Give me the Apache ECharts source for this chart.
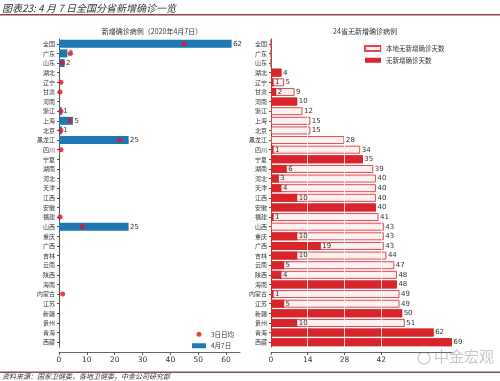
<!DOCTYPE html>
<html><head><meta charset="utf-8">
<script src="https://cdn.jsdelivr.net/npm/echarts@6/dist/echarts.min.js"></script>
<style>html,body{margin:0;padding:0;background:#fff}#c{width:500px;height:381px}</style>
</head><body><div id="c"></div>
<script>
const categories = ['全国','广东','山东','湖北','辽宁','甘肃','河南','浙江','上海','北京','黑龙江','四川','宁夏','湖南','河北','天津','江西','安徽','福建','山西','重庆','广西','吉林','云南','陕西','海南','内蒙古','江苏','新疆','贵州','青海','西藏'];
const daily = [62,3,2,0,0,0,0,1,5,1,25,0,0,0,0,0,0,0,0,25,0,0,0,0,0,0,0,0,0,0,0,0];
const avg3 = [45,4,1.3,null,0.7,0.4,null,0.7,4,0.7,21.7,0.7,null,null,null,null,null,null,0.4,8.3,null,null,null,null,null,null,1.3,null,null,null,null,null];
const localDays = [0,0,0,4,5,9,10,12,15,15,28,34,35,39,40,40,40,40,41,43,43,43,44,47,48,48,49,49,50,51,62,69];
const noneDays = [0,0,0,4,1,2,10,0,0,0,0,1,35,6,3,4,10,40,1,0,10,19,10,5,4,48,1,5,50,10,62,69];
const leftTicks = [0,10,20,30,40,50,60];
const rightTicks = [0,14,28,42];

const CJK = '"Noto Sans CJK SC", sans-serif';
const NUM = '"DejaVu Sans", sans-serif';
const chart = echarts.init(document.getElementById('c'), null, {renderer:'canvas'});

function yAx(idx){
  return {
    type:'category', gridIndex:idx, data:categories, inverse:true,
    axisLine:{show:true, lineStyle:{color:'#555', width:1}},
    axisTick:{show:true, length:2, alignWithLabel:true, lineStyle:{color:'#555'}},
    axisLabel:{fontSize:6, color:'#333', fontFamily:CJK, margin:4, interval:0},
    splitLine:{show:false}
  };
}
function xAx(idx, max, ticks){
  return {
    type:'value', gridIndex:idx, min:0, max:max, offset:5,
    axisLine:{show:true, lineStyle:{color:'#666', width:1}},
    axisTick:{show:true, length:3, customValues:ticks, lineStyle:{color:'#555'}},
    axisLabel:{fontSize:7.5, color:'#333', fontFamily:NUM, margin:4, customValues:ticks},
    splitLine:{show:false}
  };
}
const lbl = {show:true, position:'right', distance:1.5, fontSize:7, color:'#333', fontFamily:NUM};

chart.setOption({
  animation:false,
  backgroundColor:'#fff',
  textStyle:{fontFamily:CJK},
  grid:[
    {left:59, width:181, top:39, bottom:34},
    {left:271, width:181, top:39, bottom:34}
  ],
  xAxis:[xAx(0,65,leftTicks), xAx(1,69,rightTicks)],
  yAxis:[yAx(0), yAx(1)],
  legend:[
    {orient:'vertical', left:187, top:326, itemWidth:14, itemHeight:5, itemGap:5,
     textStyle:{fontSize:6.5, color:'#333', fontFamily:CJK},
     data:[{name:'3日日均', icon:'circle'},{name:'4月7日', icon:'rect'}]},
    {orient:'vertical', left:359, top:40, itemWidth:16, itemHeight:5, itemGap:5,
     textStyle:{fontSize:6.5, color:'#333', fontFamily:CJK},
     data:[{name:'本地无新增确诊天数', icon:'rect'},{name:'无新增确诊天数', icon:'rect'}]}
  ],
  title:[
    {text:'新增确诊病例（2020年4月7日）', left:147, top:23, textAlign:'center',
     textStyle:{fontSize:7, fontWeight:'normal', color:'#333', fontFamily:CJK}},
    {text:'24省无新增确诊病例', left:360, top:23, textAlign:'center',
     textStyle:{fontSize:7, fontWeight:'normal', color:'#333', fontFamily:CJK}}
  ],
  series:[
    {name:'4月7日', type:'bar', xAxisIndex:0, yAxisIndex:0, data:daily, barWidth:8,
     itemStyle:{color:'#1f77b4'},
     label:Object.assign({}, lbl, {formatter:p=>p.value>0?String(p.value):''})},
    {name:'3日日均', type:'scatter', xAxisIndex:0, yAxisIndex:0, symbolSize:5,
     itemStyle:{color:'#e4141b'}, z:5,
     data:avg3.map((v,i)=>v==null?null:[v,i]).filter(d=>d)},
    {name:'本地无新增确诊天数', type:'bar', xAxisIndex:1, yAxisIndex:1, data:localDays, barWidth:8,
     barGap:'-100%',
     itemStyle:{color:'#fdf1f1', borderColor:'#e2474c', borderWidth:1}},
    {name:'无新增确诊天数', type:'bar', xAxisIndex:1, yAxisIndex:1, data:noneDays, barWidth:8,
     barGap:'-100%',
     itemStyle:{color:'#d7252b'},
     markLine:{silent:true, symbol:'none', label:{show:false}, animation:false,
       lineStyle:{color:'#ffffff', width:1, type:'solid', opacity:0.8},
       data:[{xAxis:14},{xAxis:28},{xAxis:42}]}},
    {name:'localLabels', type:'bar', xAxisIndex:1, yAxisIndex:1, data:localDays, barWidth:8,
     barGap:'-100%', z:10, silent:true, itemStyle:{color:'rgba(0,0,0,0)'},
     label:Object.assign({}, lbl, {formatter:p=>p.value>0?String(p.value):''})},
    {name:'noneLabels', type:'bar', xAxisIndex:1, yAxisIndex:1, data:noneDays, barWidth:8,
     barGap:'-100%', z:10, silent:true, itemStyle:{color:'rgba(0,0,0,0)'},
     label:Object.assign({}, lbl, {formatter:p=>(p.value>0 && p.value<localDays[p.dataIndex])?String(p.value):''})}
  ],
  graphic:[
    {type:'text', left:2, top:3, style:{text:'图表23: 4 月 7 日全国分省新增确诊一览', fontSize:10, fontStyle:'italic', fill:'#333', fontFamily:CJK}},
    {type:'rect', shape:{x:0, y:14, width:500, height:1.5}, style:{fill:'#8a4a4a'}},
    {type:'rect', shape:{x:0, y:371.5, width:500, height:1.5}, style:{fill:'#8a4a4a'}},
    {type:'text', left:2, top:373, style:{text:'资料来源：国家卫健委，各地卫健委，中金公司研究部', fontSize:7, fontStyle:'italic', fill:'#333', fontFamily:CJK}},
    {type:'circle', shape:{cx:424, cy:358, r:6}, style:{fill:'none', stroke:'#c8c8c8', lineWidth:1.2}},
    {type:'text', left:434, top:349, style:{text:'中金宏观', fontSize:15, fill:'#c6c6c6', fontFamily:CJK}}
  ]
});
</script></body></html>
